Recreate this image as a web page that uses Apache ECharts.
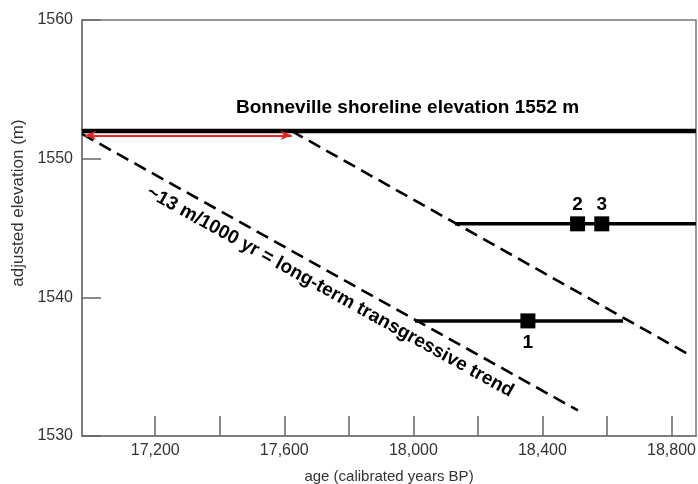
<!DOCTYPE html>
<html>
<head>
<meta charset="utf-8">
<script src="https://cdn.jsdelivr.net/npm/echarts@6/dist/echarts.min.js"></script>
<style>
html,body{margin:0;padding:0;background:#fff;}
#chart{width:698px;height:484px;}
</style>
</head>
<body>
<div id="chart"></div>
<script>
// ---- data ----
const xRange = [16973, 18876];
const yRange = [1530, 1560];
const xTickValues = [17200, 17400, 17600, 17800, 18000, 18200, 18400, 18600, 18800];
const xLabelValues = [17200, 17600, 18000, 18400, 18800];
const yTickValues = [1530, 1540, 1550, 1560];
const shorelineElevation = 1552;
const redArrow = [[16982, 1551.68], [17623, 1551.68]];
const trendLineA = [[16973, 1551.78], [18510, 1531.84]];
const trendLineB = [[17622, 1552.0], [18851, 1535.91]];
const lowerRange = [[18005, 1538.3], [18650, 1538.3]];
const upperRange = [[18129, 1545.3], [18876, 1545.3]];
const samples = [[18355, 1538.3, '1'], [18509, 1545.3, '2'], [18584, 1545.3, '3']];
const shorelineText = 'Bonneville shoreline elevation 1552 m';
const shorelineTextAt = [17982, 1553.65];
const trendText = '~13 m/1000 yr = long-term transgressive trend';
const trendTextAt = [17742, 1540.4];
const yAxisTitle = 'adjusted elevation (m)';
const xAxisTitle = 'age (calibrated years BP)';

const chart = echarts.init(document.getElementById('chart'), null, {renderer: 'canvas'});
const FONT = 'Liberation Sans, Arial, sans-serif';
const dash = [13, 7];

const option = {
  animation: false,
  backgroundColor: '#fff',
  grid: {left: 82, right: 2, top: 20, bottom: 48, show: true, borderColor: '#777', borderWidth: 1.5,
    containLabel: false, outerBoundsMode: 'none'},
  graphic: [
    {type: 'text', x: 18, y: 203, rotation: Math.PI / 2, silent: true,
      style: {text: yAxisTitle, font: '17px ' + FONT, fill: '#333', align: 'center', verticalAlign: 'middle'}}
  ],
  xAxis: {
    type: 'value', min: xRange[0], max: xRange[1],
    name: xAxisTitle, nameLocation: 'middle', nameGap: 33,
    nameTextStyle: {fontFamily: FONT, fontSize: 15, color: '#333'},
    axisLine: {show: true, lineStyle: {color: '#777', width: 1.5}},
    axisTick: {show: true, inside: true, length: 20, customValues: xTickValues, lineStyle: {color: '#666', width: 1.5}},
    axisLabel: {customValues: xLabelValues, fontFamily: FONT, fontSize: 16, color: '#333', margin: 7,
      formatter: v => String(v).replace(/\B(?=(\d{3})+(?!\d))/g, ',')},
    splitLine: {show: false}
  },
  yAxis: {
    type: 'value', min: yRange[0], max: yRange[1], interval: 10,
    axisLine: {show: true, lineStyle: {color: '#777', width: 1.5}},
    axisTick: {show: true, inside: true, length: 19, customValues: yTickValues, lineStyle: {color: '#666', width: 1.5}},
    axisLabel: {fontFamily: FONT, fontSize: 16, color: '#333', margin: 9, formatter: v => String(v)},
    splitLine: {show: false}
  },
  series: [
    {type: 'line', data: [[xRange[0], shorelineElevation], [xRange[1], shorelineElevation]], showSymbol: false, silent: true,
      lineStyle: {color: '#000', width: 4.5}, z: 3},
    {type: 'line', data: trendLineA, showSymbol: false, silent: true, lineStyle: {color: '#000', width: 2.6, type: dash}, z: 2},
    {type: 'line', data: trendLineB, showSymbol: false, silent: true, lineStyle: {color: '#000', width: 2.6, type: dash}, z: 2},
    {type: 'line', data: lowerRange, showSymbol: false, silent: true, lineStyle: {color: '#000', width: 3.5}, z: 3},
    {type: 'line', data: upperRange, showSymbol: false, silent: true, lineStyle: {color: '#000', width: 3.5}, z: 3},
    {type: 'line', data: [], silent: true, z: 4,
      markLine: {silent: true, symbol: ['arrow', 'arrow'], symbolSize: [7, 11], label: {show: false},
        lineStyle: {color: '#e3262b', width: 2, type: 'solid'},
        data: [[{coord: redArrow[0]}, {coord: redArrow[1]}]]}},
    {type: 'scatter', silent: true, z: 5, symbol: 'rect', symbolSize: 15, itemStyle: {color: '#000', opacity: 1},
      data: samples.map(s => ({value: [s[0], s[1]], name: s[2],
        label: {show: true, formatter: s[2], position: s[2] === '1' ? 'bottom' : 'top', distance: s[2] === '1' ? 5 : 2,
          fontFamily: FONT, fontSize: 19, fontWeight: 'bold', color: '#000', opacity: 1}}))},
    {type: 'scatter', silent: true, z: 6, symbolSize: 0, itemStyle: {opacity: 1},
      data: [
        {value: shorelineTextAt, label: {show: true, position: 'inside', formatter: shorelineText,
          fontFamily: FONT, fontSize: 19, fontWeight: 'bold', color: '#000', opacity: 1}},
        {value: trendTextAt, label: {show: true, position: 'inside', rotate: -29, formatter: trendText,
          fontFamily: FONT, fontSize: 19, fontWeight: 'bold', color: '#000', opacity: 1}}
      ]}
  ]
};
chart.setOption(option);
</script>
</body>
</html>
